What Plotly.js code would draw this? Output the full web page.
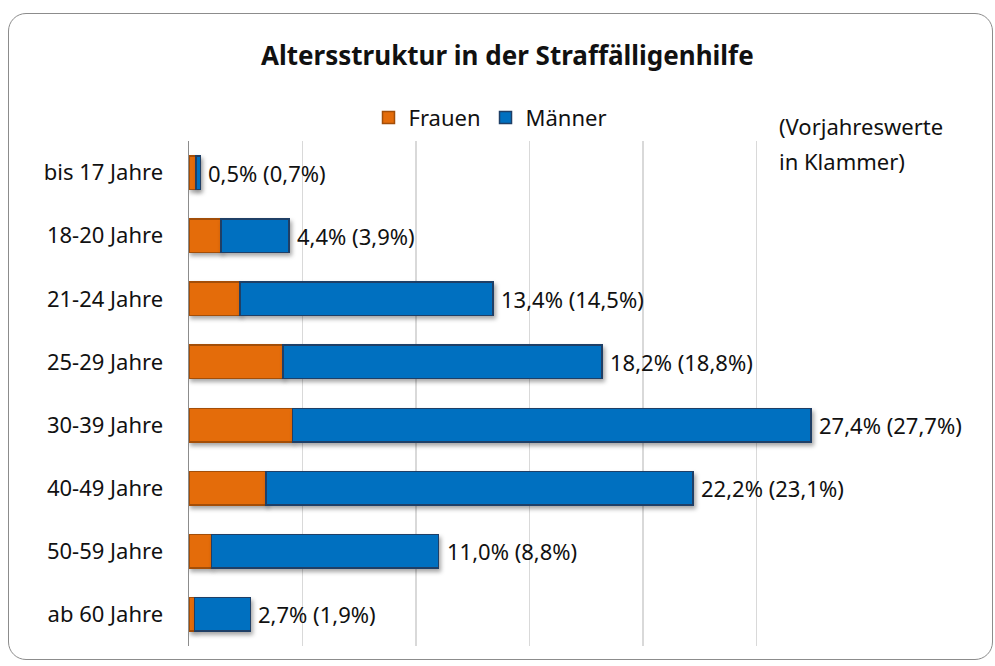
<!DOCTYPE html>
<html>
<head>
<meta charset="utf-8">
<script src="https://cdn.plot.ly/plotly-3.0.1.min.js"></script>
<style>
  html, body { margin: 0; padding: 0; background: #ffffff; }
  #frame {
    position: absolute; left: 8px; top: 13px; width: 983px; height: 645px;
    border: 1.5px solid #8c8c8c; border-radius: 18px; overflow: hidden; background: #fff;
  }
  #chart { width: 983px; height: 645px; }
  .barlayer .trace { filter: drop-shadow(2px 3px 2px rgba(0,0,0,0.35)); }
</style>
</head>
<body>
<div id="frame"><div id="chart"></div></div>
<script>
const categories = ["bis 17 Jahre", "18-20 Jahre", "21-24 Jahre", "25-29 Jahre", "30-39 Jahre", "40-49 Jahre", "50-59 Jahre", "ab 60 Jahre"];
const frauen  = [0.3, 1.4, 2.25, 4.15, 4.55, 3.4, 1.0, 0.25];
const maenner = [0.2, 3.0, 11.15, 14.05, 22.85, 18.8, 10.0, 2.45];
const shareTotal = [0.5, 4.4, 13.4, 18.2, 27.4, 22.2, 11.0, 2.7];
const sharePrev  = [0.7, 3.9, 14.5, 18.8, 27.7, 23.1, 8.8, 1.9];

const fmt = v => v.toFixed(1).replace('.', ',') + '%';
const FONT = '"Noto Sans", "Open Sans", sans-serif';
const FS = 22;

const traces = [
  {
    type: 'bar', orientation: 'h', name: 'Frauen',
    y: categories, x: frauen,
    marker: { color: '#E46C0A', line: { color: '#A34E08', width: 1.5 } },
    hoverinfo: 'x+name'
  },
  {
    type: 'bar', orientation: 'h', name: 'Männer',
    y: categories, x: maenner,
    marker: { color: '#0070C0', line: { color: '#1F3F66', width: 1.5 } },
    hoverinfo: 'x+name'
  }
];

const annotations = categories.map((c, i) => ({
  x: shareTotal[i], y: c, xref: 'x', yref: 'y',
  xanchor: 'left', yanchor: 'middle', xshift: 6,
  text: fmt(shareTotal[i]) + ' (' + fmt(sharePrev[i]) + ')',
  showarrow: false, font: { family: FONT, size: FS, color: '#111' }
}));
annotations.push({
  x: 0.864, y: 1.03, xref: 'paper', yref: 'paper', xanchor: 'left', yanchor: 'middle',
  text: '(Vorjahreswerte', showarrow: false, font: { family: FONT, size: FS, color: '#111' }
});
annotations.push({
  x: 0.864, y: 0.96, xref: 'paper', yref: 'paper', xanchor: 'left', yanchor: 'middle',
  text: 'in Klammer)', showarrow: false, font: { family: FONT, size: FS, color: '#111' }
});

const layout = {
  width: 983, height: 645,
  margin: { l: 180, r: 122, t: 127, b: 13 },
  paper_bgcolor: 'rgba(0,0,0,0)', plot_bgcolor: 'rgba(0,0,0,0)',
  barmode: 'stack', bargap: 0.47,
  title: {
    text: '<b>Altersstruktur in der Straffälligenhilfe</b>',
    x: 0.507, xref: 'container', xanchor: 'center',
    y: 0.935, yref: 'container', yanchor: 'middle',
    font: { family: FONT, size: 26, color: '#111' }
  },
  showlegend: true,
  legend: {
    orientation: 'h', x: 0.442, xanchor: 'center', y: 1.046, yanchor: 'middle',
    font: { family: FONT, size: FS, color: '#111' }, traceorder: 'normal',
    itemwidth: 30
  },
  xaxis: {
    range: [0, 30], dtick: 5, tick0: 0, showticklabels: false,
    showgrid: true, gridcolor: '#d9d9d9', gridwidth: 1.2,
    zeroline: false, showline: false, fixedrange: true
  },
  yaxis: {
    type: 'category', autorange: 'reversed',
    showline: true, linecolor: '#8c8c8c', linewidth: 1.5,
    ticks: '', ticklen: 0, showgrid: false,
    tickfont: { family: FONT, size: FS, color: '#111' },
    ticklabelstandoff: 20, fixedrange: true
  },
  annotations: annotations
};

Plotly.newPlot('chart', traces, layout, { displayModeBar: false, staticPlot: true });
</script>
</body>
</html>
